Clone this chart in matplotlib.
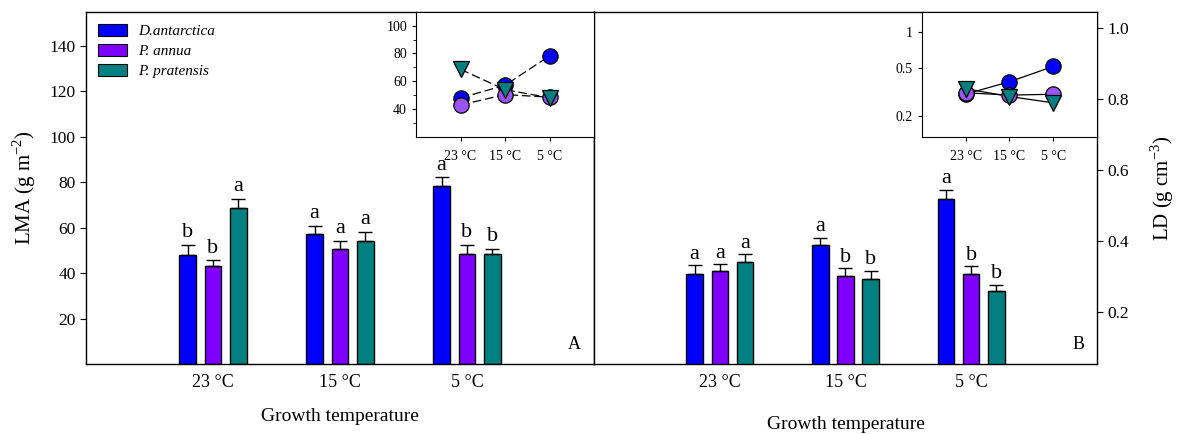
import numpy as np
import matplotlib
matplotlib.use("Agg")
import matplotlib.pyplot as plt
from matplotlib.patches import Patch

plt.rcParams['font.family'] = ['Liberation Serif', 'DejaVu Serif']
plt.rcParams['mathtext.fontset'] = 'custom'
plt.rcParams['mathtext.rm'] = 'Liberation Serif'

temps = ["23 °C", "15 °C", "5 °C"]
species = ["D.antarctica", "P. annua", "P. pratensis"]
bar_colors = ["#0000ff", "#7f00ff", "#008080"]
inset_colors = ["#0000ff", "#9b55f5", "#008080"]
markers = ["o", "o", "v"]

# LMA (g m-2), mean and SE per species, by temperature
lma_mean = {
    "D.antarctica": [48.1, 57.2, 78.2],
    "P. annua": [43.0, 50.5, 48.6],
    "P. pratensis": [68.6, 54.0, 48.2],
}
lma_se = {
    "D.antarctica": [4.2, 3.5, 3.9],
    "P. annua": [2.6, 3.8, 3.8],
    "P. pratensis": [4.1, 4.1, 2.6],
}
lma_letters = {
    "D.antarctica": ["b", "a", "a"],
    "P. annua": ["b", "a", "b"],
    "P. pratensis": ["a", "a", "b"],
}

# LD (g cm-3)
ld_mean = {
    "D.antarctica": [0.306, 0.387, 0.518],
    "P. annua": [0.314, 0.300, 0.305],
    "P. pratensis": [0.339, 0.292, 0.259],
}
ld_se = {
    "D.antarctica": [0.025, 0.021, 0.026],
    "P. annua": [0.019, 0.023, 0.023],
    "P. pratensis": [0.022, 0.023, 0.017],
}
ld_letters = {
    "D.antarctica": ["a", "a", "a"],
    "P. annua": ["a", "b", "b"],
    "P. pratensis": ["a", "b", "b"],
}

x = np.arange(1, 4)
offsets = [-0.2, 0.0, 0.2]
width = 0.13

fig = plt.figure(figsize=(11.84, 4.34), dpi=100)
axA = fig.add_axes([0.0726, 0.1613, 0.4291, 0.8117])
axB = fig.add_axes([0.5017, 0.1613, 0.4248, 0.8117])


def draw_bars(ax, means, ses, letters, pad):
    for sp, off, col in zip(species, offsets, bar_colors):
        m = np.array(means[sp])
        e = np.array(ses[sp])
        ax.bar(x + off, m, width, color=col, edgecolor="black", linewidth=1.0,
               bottom=0, zorder=2, label=sp)
        ax.errorbar(x + off, m, yerr=[np.zeros_like(e), e], fmt="none",
                    ecolor="black", elinewidth=1.0, capsize=5, capthick=1.0,
                    zorder=3)
        for xi, mi, ei, lt in zip(x + off, m, e, letters[sp]):
            ax.text(xi, mi + ei + pad, lt, ha="center", va="bottom",
                    fontsize=16)
    ax.set_xlim(0, 4)
    ax.set_xticks(x)
    ax.set_xticklabels(temps, fontsize=13)
    ax.tick_params(axis="x", length=0, pad=7)
    for s in ax.spines.values():
        s.set_linewidth(1.0)


# panel A
draw_bars(axA, lma_mean, lma_se, lma_letters, 1.2)
axA.set_ylim(0, 155)
axA.set_yticks(np.arange(20, 141, 20))
axA.tick_params(axis="y", labelsize=12.5, direction="out", length=4)
axA.set_ylabel("LMA (g m$^{-2}$)", fontsize=15, labelpad=8)
axA.set_xlabel("Growth temperature", fontsize=14)
axA.xaxis.set_label_coords(0.5, -0.125)
axA.text(0.975, 0.03, "A", transform=axA.transAxes, ha="right", va="bottom",
         fontsize=13)
handles = [Patch(facecolor=c, edgecolor="black", linewidth=0.8) for c in bar_colors]
axA.legend(handles, species, loc="upper left", frameon=False,
           prop={"style": "italic", "size": 11}, handlelength=1.9,
           handleheight=0.9, labelspacing=0.35, handletextpad=0.7,
           bbox_to_anchor=(-0.003, 1.005))

# panel B
draw_bars(axB, ld_mean, ld_se, ld_letters, 0.004)
axB.set_ylim(0.052, 1.046)
axB.set_yticks([0.2, 0.4, 0.6, 0.8, 1.0])
axB.yaxis.tick_right()
axB.yaxis.set_label_position("right")
axB.tick_params(axis="y", labelsize=12.5, direction="out", length=4)
axB.set_ylabel("LD (g cm$^{-3}$)", fontsize=15, labelpad=14)
axB.set_xlabel("Growth temperature", fontsize=14)
axB.xaxis.set_label_coords(0.5, -0.147)
axB.text(0.975, 0.03, "B", transform=axB.transAxes, ha="right", va="bottom",
         fontsize=13)


def draw_inset(rect, means, ls, ylim, logy=False):
    ax = fig.add_axes(rect)
    for sp, col, mk in zip(species, inset_colors, markers):
        ax.plot(x, means[sp], color="black", linestyle=ls, linewidth=0.9,
                zorder=2)
        ax.plot(x, means[sp], linestyle="none", marker=mk, markersize=11,
                markerfacecolor=col, markeredgecolor="black",
                markeredgewidth=0.9, zorder=3)
    if logy:
        ax.set_yscale("log")
    ax.set_ylim(*ylim)
    ax.set_xlim(0, 4)
    ax.set_xticks(x)
    ax.set_xticklabels(temps, fontsize=10)
    ax.tick_params(axis="x", length=3, pad=6)
    ax.tick_params(axis="y", labelsize=10, length=3)
    ax.set_facecolor("white")
    return ax


insA = draw_inset([0.3514, 0.6843, 0.1503, 0.2887], lma_mean, (0, (7, 3)),
                  (20, 110))
insA.set_yticks([40, 60, 80, 100])
insA.set_yticks(np.arange(30, 110, 20), minor=True)
insA.tick_params(axis="y", which="minor", length=2)

insB = draw_inset([0.7787, 0.6843, 0.1478, 0.2887], ld_mean, "-",
                  (0.135, 1.47), logy=True)
insB.set_yticks([0.2, 0.5, 1])
insB.set_yticklabels(["0.2", "0.5", "1"])
insB.yaxis.set_minor_locator(matplotlib.ticker.NullLocator())

fig.savefig("out.png", dpi=100)
